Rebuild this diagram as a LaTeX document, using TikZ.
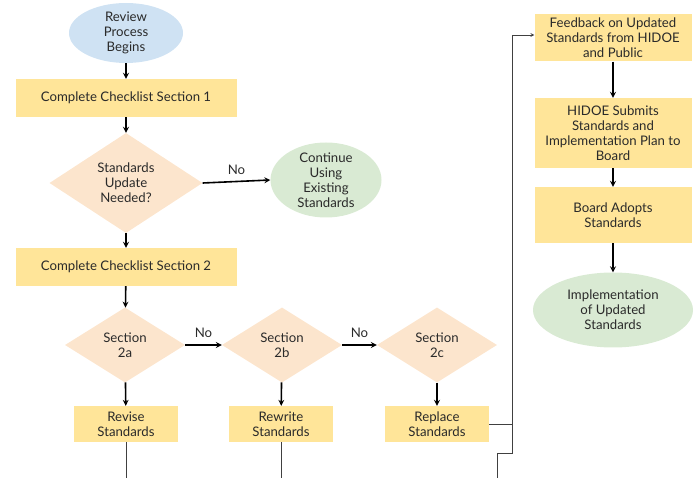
\documentclass[tikz,border=0pt]{standalone}
\usepackage{fontspec}
\setmainfont{Lato}
\usetikzlibrary{shapes.geometric}
\definecolor{taskyellow}{HTML}{FFE599}
\definecolor{choicepeach}{HTML}{FCE5CD}
\definecolor{endgreen}{HTML}{D9EAD3}
\definecolor{startblue}{HTML}{CFE2F3}
\definecolor{inkgray}{HTML}{2A2A2A}
\begin{document}
\begin{tikzpicture}[x=1pt, y=-1pt, >=stealth,
    every node/.style={font=\fontsize{13.2}{15}\selectfont, text=inkgray, align=center},
    task/.style={rectangle, fill=taskyellow, inner sep=0pt},
    choice/.style={diamond, fill=choicepeach, inner sep=0pt},
    oval/.style={ellipse, inner xsep=0pt, inner ysep=-6pt},
    flow/.style={->, line width=1.6pt, black},
    link/.style={line width=0.7pt, black!75}]

      \useasboundingbox (0,0) rectangle (694,478);

      % left column
      \node[oval, fill=startblue, minimum width=114, minimum height=60] (begin) at (126,33) {Review\\Process\\Begins};
      \node[task, minimum width=221, minimum height=38] (check1) at (126,98) {Complete Checklist Section 1};
      \node[choice, minimum width=153, minimum height=100] (update) at (126,183) {Standards\\Update\\Needed?};
      \node[oval, fill=endgreen, minimum width=111, minimum height=75] (keep) at (326,180) {Continue\\Using\\Existing\\Standards};
      \node[task, minimum width=221, minimum height=38] (check2) at (126,267) {Complete Checklist Section 2};

      % section row
      \node[choice, minimum width=120, minimum height=75] (sec2a) at (125,345) {Section\\2a};
      \node[choice, minimum width=120, minimum height=75] (sec2b) at (282,345) {Section\\2b};
      \node[choice, minimum width=120, minimum height=75] (sec2c) at (437,345) {Section\\2c};
      \node[task, minimum width=104, minimum height=36] (revise) at (126,424) {Revise\\Standards};
      \node[task, minimum width=104, minimum height=36] (rewrite) at (281,424) {Rewrite\\Standards};
      \node[task, minimum width=104, minimum height=36] (replace) at (437,424) {Replace\\Standards};

      % right column
      \node[task, minimum width=157, minimum height=47] (feedback) at (613,38) {Feedback on Updated\\Standards from HIDOE\\and Public};
      \node[task, minimum width=157, minimum height=70] (submit) at (613,133) {HIDOE Submits\\Standards and\\Implementation Plan to\\Board};
      \node[task, minimum width=157, minimum height=56] (adopt) at (613,215) {Board Adopts\\Standards};
      \node[oval, fill=endgreen, minimum width=160, minimum height=75] (implement) at (613,310) {Implementation\\of Updated\\Standards};

      \draw[flow] (begin) -- (check1);
      \draw[flow] (check1) -- (update);
      \draw[flow] (update.east) -- node[above=3pt] {No} (keep.west);
      \draw[flow] (update) -- (check2);
      \draw[flow] (check2) -- (sec2a);
      \draw[flow] (sec2a.east) -- node[above=3pt] {No} (sec2b.west);
      \draw[flow] (sec2b.east) -- node[above=3pt] {No} (sec2c.west);
      \draw[flow] (sec2a) -- (revise);
      \draw[flow] (sec2b) -- (rewrite);
      \draw[flow] (sec2c) -- (replace);
      \draw[flow] (feedback) -- (submit);
      \draw[flow] (submit) -- (adopt);
      \draw[flow] (adopt) -- (implement);

      % links running off the bottom edge
      \coordinate (reviseout) at (126,478);
      \coordinate (rewriteout) at (281,478);
      \coordinate (backin) at (497,478);
      \coordinate (rise) at (512,424);
      \coordinate (merge) at (512,453);
      \draw[link] (revise) -- (reviseout);
      \draw[link] (rewrite) -- (rewriteout);
      \draw[link] (backin) |- (merge) -- (rise);
      \draw[link, ->] (replace.east) -- (rise) |- ([yshift=3pt]feedback.west);
    \end{tikzpicture}
\end{document}
